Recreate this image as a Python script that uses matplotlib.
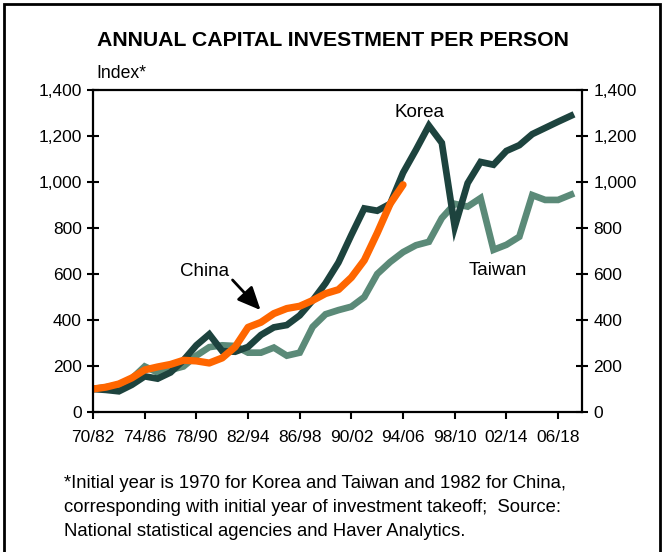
import matplotlib
matplotlib.use("Agg")
import matplotlib.pyplot as plt
from matplotlib.patches import Rectangle
from matplotlib.ticker import FuncFormatter

plt.rcParams['font.family'] = ['Liberation Sans', 'DejaVu Sans']

# years since investment takeoff (1970 Korea/Taiwan, 1982 China)
korea = [100, 96, 90, 118, 155, 145, 172, 225, 290, 338, 265, 262, 283, 335, 368,
         378, 420, 485, 560, 650, 770, 885, 875, 905, 1040, 1140, 1245, 1170, 805,
         995, 1087, 1075, 1135, 1160, 1208, 1235, 1262, 1288]
taiwan = [100, 108, 118, 145, 198, 172, 183, 198, 245, 282, 290, 287, 258, 258, 280,
          245, 258, 370, 425, 443, 458, 500, 600, 652, 695, 725, 740, 843, 905, 893,
          930, 705, 727, 762, 943, 922, 922, 945]
china = [100, 108, 122, 148, 183, 196, 207, 225, 222, 213, 235, 283, 368, 390, 428,
         450, 460, 485, 515, 532, 585, 660, 778, 905, 988]
tick_labels = ['70/82', '74/86', '78/90', '82/94', '86/98', '90/02', '94/06',
               '98/10', '02/14', '06/18']

fig = plt.figure(figsize=(6.63, 5.52), dpi=100)
ax = fig.add_axes([0.1403, 0.2536, 0.7377, 0.5834])

ax.plot(range(len(taiwan)), taiwan, color='#5b8a78', lw=4.8, solid_joinstyle='miter')
ax.plot(range(len(korea)), korea, color='#1d433e', lw=4.8, solid_joinstyle='miter')
ax.plot(range(len(china)), china, color='#ff6600', lw=5.2, solid_capstyle='round')

ax.set_xlim(0, 37.86)
ax.set_ylim(0, 1400)
ax.set_xticks(range(0, 40, 4))
ax.set_xticklabels(tick_labels)
ax.set_yticks(range(0, 1401, 200))
fmt = FuncFormatter(lambda v, p: f'{int(v):,}')
ax.yaxis.set_major_formatter(fmt)

for s in ax.spines.values():
    s.set_linewidth(1.6)
ax.tick_params(axis='x', direction='out', length=5, width=1.5, labelsize=12.5, pad=8)
ax.tick_params(axis='y', direction='inout', length=8, width=1.5, labelsize=12.5,
               right=True, labelright=True, pad=4)

ax.text(25.3, 1304, 'Korea', fontsize=13.5, ha='center', va='center')
ax.text(31.3, 617, 'Taiwan', fontsize=13.5, ha='center', va='center')
ax.text(8.66, 613, 'China', fontsize=13.5, ha='center', va='center')
ax.annotate('', xy=(12.97, 443), xytext=(10.8, 574),
            arrowprops=dict(arrowstyle='-|>,head_length=1.0,head_width=0.45',
                            mutation_scale=14, color='black', lw=2,
                            shrinkA=0, shrinkB=0))

fig.text(0.502, 0.926, 'ANNUAL CAPITAL INVESTMENT PER PERSON', fontsize=15.3,
         fontweight='bold', ha='center', va='center')
fig.text(96 / 663, 1 - 73 / 552, 'Index*', fontsize=12.7, ha='left', va='center')

foot = ['*Initial year is 1970 for Korea and Taiwan and 1982 for China,',
        'corresponding with initial year of investment takeoff;  Source:',
        'National statistical agencies and Haver Analytics.']
for i, line in enumerate(foot):
    fig.text(64 / 663, 1 - (484 + 24 * i) / 552, line, fontsize=13.3,
             ha='left', va='center')

fig.patches.append(Rectangle((0.006, -0.02), 0.989, 1.013, transform=fig.transFigure,
                             fill=False, edgecolor='black', lw=2))

fig.savefig('out.png', dpi=100)
